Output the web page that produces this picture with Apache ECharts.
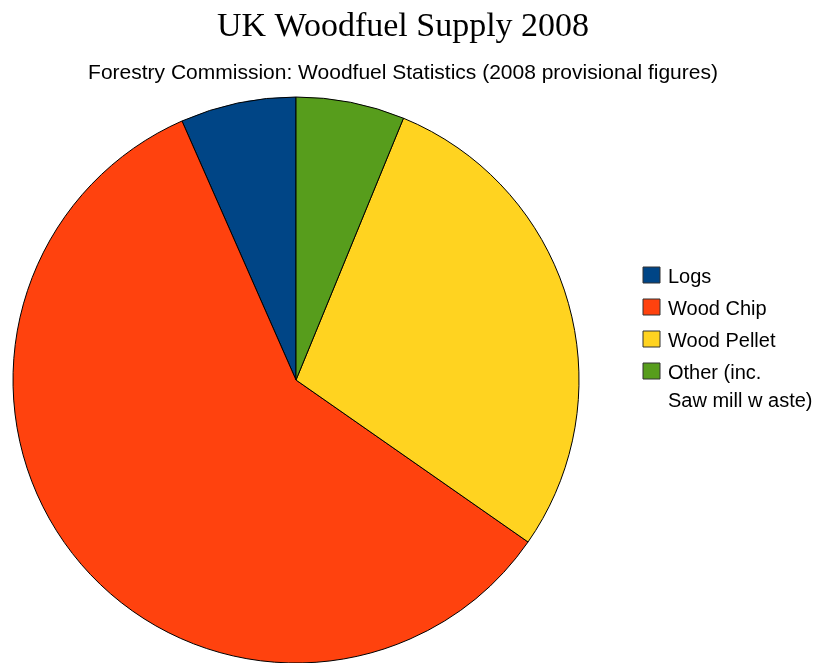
<!DOCTYPE html>
<html>
<head>
<meta charset="utf-8">
<script src="https://cdn.jsdelivr.net/npm/echarts@6/dist/echarts.min.js"></script>
<style>
  html, body { margin: 0; padding: 0; background: #ffffff; }
  #chart { width: 820px; height: 663px; }
</style>
</head>
<body>
<div id="chart"></div>
<script>
// Woodfuel supply shares, UK 2008 (percent)
const categories = ['Logs', 'Wood Chip', 'Wood Pellet', 'Other (inc.\nSaw mill w aste)'];
const shares = [6.6, 58.7, 28.5, 6.2];
const colors = ['#004586', '#ff420e', '#ffd320', '#579d1c'];

const titleText = 'UK Woodfuel Supply 2008';
const subtitleText = 'Forestry Commission: Woodfuel Statistics (2008 provisional figures)';

const chart = echarts.init(document.getElementById('chart'), null, { renderer: 'canvas' });

// Legend drawn as a stacked list of swatches and labels
const legendItems = [];
let y = 267;
categories.forEach((name, i) => {
  legendItems.push({
    type: 'rect',
    shape: { x: 643, y: y, width: 17, height: 16 },
    style: { fill: colors[i], stroke: '#333333', lineWidth: 1 }
  });
  legendItems.push({
    type: 'text',
    x: 668,
    y: y - 4,
    style: {
      text: name,
      font: '20px "Liberation Sans", Arial, sans-serif',
      fill: '#000000',
      lineHeight: 28,
      textVerticalAlign: 'top'
    }
  });
  y += 32;
});

chart.setOption({
  backgroundColor: '#ffffff',
  animation: false,
  title: [
    {
      text: titleText,
      left: 398,
      top: 5,
      textAlign: 'center',
      textStyle: {
        fontFamily: '"Liberation Serif", "Times New Roman", serif',
        fontSize: 34,
        fontWeight: 'normal',
        color: '#000000'
      }
    },
    {
      text: subtitleText,
      left: 398,
      top: 58,
      textAlign: 'center',
      textStyle: {
        fontFamily: '"Liberation Sans", Arial, sans-serif',
        fontSize: 21,
        fontWeight: 'normal',
        color: '#000000'
      }
    }
  ],
  graphic: legendItems,
  series: [
    {
      type: 'pie',
      center: [296, 380],
      radius: 283,
      startAngle: 90,
      clockwise: false,
      label: { show: false },
      labelLine: { show: false },
      emphasis: { disabled: true },
      itemStyle: { borderColor: '#000000', borderWidth: 1 },
      data: categories.map((name, i) => ({
        name: name,
        value: shares[i],
        itemStyle: { color: colors[i] }
      }))
    }
  ]
});
</script>
</body>
</html>
